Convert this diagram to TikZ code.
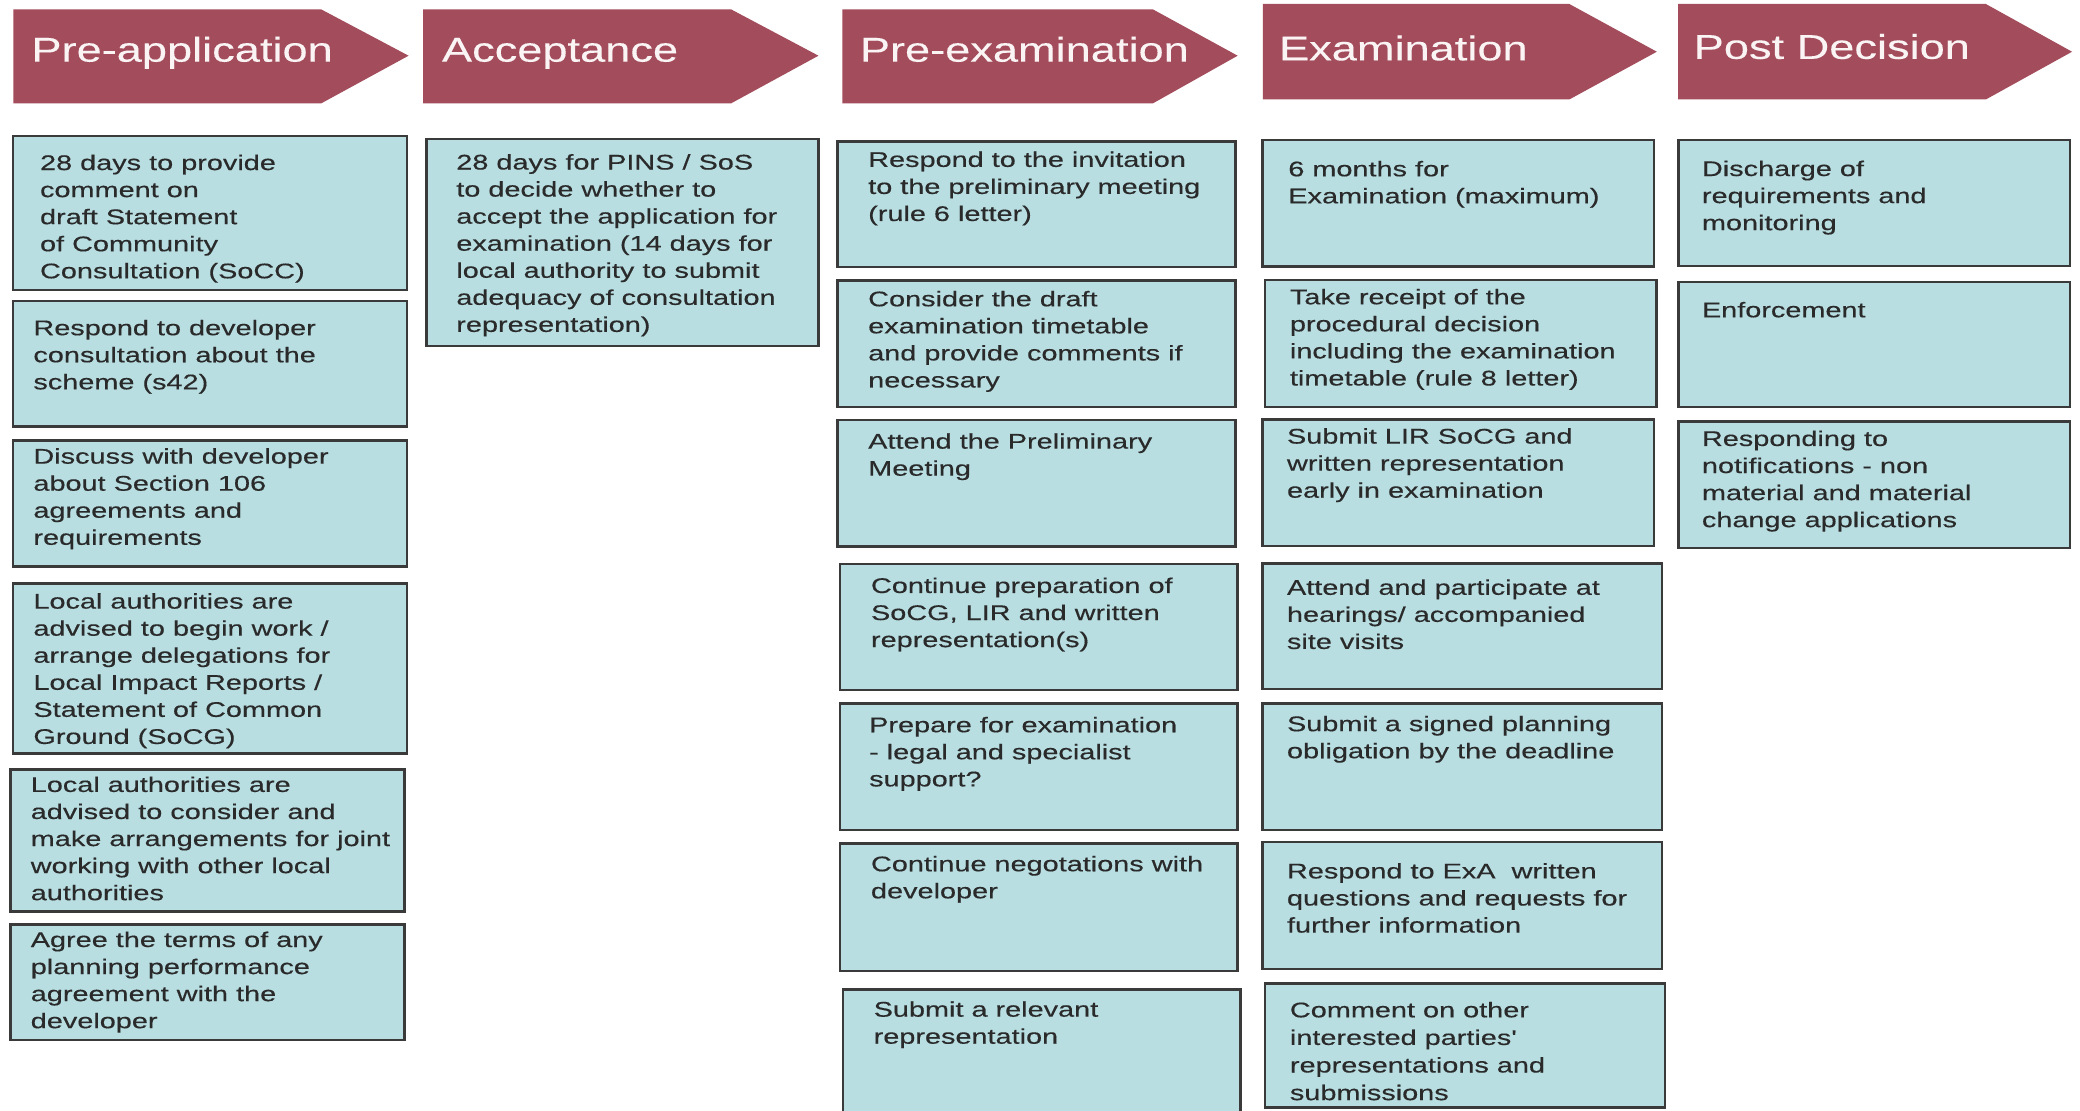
\documentclass[tikz,border=0pt]{standalone}
\usepackage{fontspec}
\newfontfamily\bodyf{Liberation Sans}[FakeStretch=1.36,FakeBold=0.35]
\newfontfamily\headf{Liberation Sans}[FakeStretch=1.31,FakeBold=0.2]
\definecolor{hdcol}{HTML}{A34C5C}
\definecolor{boxfill}{HTML}{B8DEE2}
\definecolor{boxline}{HTML}{3A3A3A}
\definecolor{txtcol}{HTML}{2A2A2A}
\definecolor{hdtxt}{HTML}{FAF4F4}
\tikzset{
  boxst/.style={fill=boxfill, draw=boxline, line width=1.8pt},
  txt/.style={inner sep=0pt, align=left, text=txtcol, font=\bodyf\fontsize{16}{20.4}\selectfont},
  txtw/.style={inner sep=0pt, align=left, text=txtcol, font=\bodyf\fontsize{16}{20.8}\selectfont},
  htxt/.style={inner sep=0pt, text=hdtxt, font=\headf\fontsize{26}{30}\selectfont, anchor=base west},
  hdshape/.style={fill=hdcol}
}
% #1 style, #2 name, #3 x1, #4 y1, #5 x2, #6 y2, #7 text x, #8 first baseline, #9 text
\newcommand\bx[9][txt]{%
  \draw[boxst] (#3,#4) rectangle (#5,#6);
  \node[#1, anchor=north west] (#2) at (#7,#8-12) {\rule{0pt}{12pt}#9};
}
% header: #1 name, #2 left, #3 flat end, #4 tip, #5 top, #6 bottom, #7 tip y, #8 text x, #9 text baseline
\newcommand\hd[9]{%
  \fill[hdshape] (#2,#5) -- (#3,#5) -- (#4,#7) -- (#3,#6) -- (#2,#6) -- cycle;
  \coordinate (#1) at (#8,#9);
}
\begin{document}
\begin{tikzpicture}[x=1pt,y=-1pt]
\useasboundingbox (0,0) rectangle (1568,837);
\clip (0,0) rectangle (1568,837);
\fill[white] (0,0) rectangle (1568,837);

% headers
\hd{h1}{10}{242}{308}{7}{78}{42}{23.5}{46.5}
\node[htxt] (h1t) at (h1) {Pre-application};
\hd{h2}{319}{551}{617}{7}{78}{42}{333}{46.5}
\node[htxt] (h2t) at (h2) {Acceptance};
\hd{h3}{635}{869}{933}{7}{78}{42}{648}{46.5}
\node[htxt] (h3t) at (h3) {Pre-examination};
\hd{h4}{952}{1183}{1249}{3}{75}{39}{964}{45.5}
\node[htxt] (h4t) at (h4) {Examination};
\hd{h5}{1265}{1497}{1562}{3}{75}{39}{1276.6}{44.4}
\node[htxt] (h5t) at (h5) {Post Decision};

% column 1
\bx{p1}{10}{102.5}{307}{218.5}{30}{128}{28 days to provide\\comment on\\draft Statement\\of Community\\Consultation (SoCC)}
\bx{p2}{10}{227}{307}{321.5}{25}{252.5}{Respond to developer\\consultation about the\\scheme (s42)}
\bx{p3}{10}{332}{307}{427}{25}{349.3}{Discuss with developer\\about Section 106\\agreements and\\requirements}
\bx{p4}{10}{440}{307}{568}{25}{458.6}{Local authorities are\\advised to begin work /\\arrange delegations for\\Local Impact Reports /\\Statement of Common\\Ground (SoCG)}
\bx{p5}{8}{580}{305}{687}{23}{596.8}{Local authorities are\\advised to consider and\\make arrangements for joint\\working with other local\\authorities}
\bx{p6}{8}{697}{305}{784}{23}{713.7}{Agree the terms of any\\planning performance\\agreement with the\\developer}

% column 2
\bx{a1}{321.6}{105}{617}{260.8}{343.8}{127.6}{28 days for PINS / SoS\\to decide whether to\\accept the application for\\examination (14 days for\\local authority to submit\\adequacy of consultation\\representation)}

% column 3
\bx{e1}{631.4}{106.8}{931.3}{201.5}{654.3}{125.6}{Respond to the invitation\\to the preliminary meeting\\(rule 6 letter)}
\bx{e2}{631.4}{211.6}{931.3}{306.6}{654.3}{230.7}{Consider the draft\\examination timetable\\and provide comments if\\necessary}
\bx{e3}{631.4}{316.6}{931.3}{412.1}{654.3}{338}{Attend the Preliminary\\Meeting}
\bx{e4}{633}{425}{933}{520}{656.4}{446.8}{Continue preparation of\\SoCG, LIR and written\\representation(s)}
\bx{e5}{633}{530.4}{933}{625.8}{655}{551.8}{Prepare for examination\\- legal and specialist\\support?}
\bx{e6}{633}{636}{933}{732}{656.4}{656.6}{Continue negotations with\\developer}
\bx{e7}{635.5}{746}{935}{850}{658.4}{766.2}{Submit a relevant\\representation}

% column 4
\bx{x1}{951.8}{105.5}{1246.8}{201}{971}{132.7}{6 months for\\Examination (maximum)}
\bx{x2}{953.8}{211}{1248.8}{306.6}{972.2}{229.2}{Take receipt of the\\procedural decision\\including the examination\\timetable (rule 8 letter)}
\bx{x3}{951.8}{316.1}{1246.8}{411.6}{970}{334.2}{Submit LIR SoCG and\\written representation\\early in examination}
\bx{x4}{951.8}{424.9}{1253}{519.5}{970}{448.2}{Attend and participate at\\hearings/ accompanied\\site visits}
\bx{x5}{951.8}{530.4}{1253}{625.8}{970}{551}{Submit a signed planning\\obligation by the deadline}
\bx{x6}{951.8}{634.6}{1253}{730.5}{970}{662}{Respond to ExA\ \ written\\questions and requests for\\further information}
\bx[txtw]{x7}{953.7}{741.5}{1255}{835}{972.2}{766.7}{Comment on other\\interested parties'\\representations and\\submissions}

% column 5
\bx{d1}{1265.2}{105.5}{1560.5}{200.6}{1282.8}{132.5}{Discharge of\\requirements and\\monitoring}
\bx{d2}{1265.2}{212.7}{1560.5}{306.9}{1282.8}{239}{Enforcement}
\bx{d3}{1265.2}{317.7}{1560.5}{413.3}{1282.8}{336}{Responding to\\notifications - non\\material and material\\change applications}
\end{tikzpicture}
\end{document}
